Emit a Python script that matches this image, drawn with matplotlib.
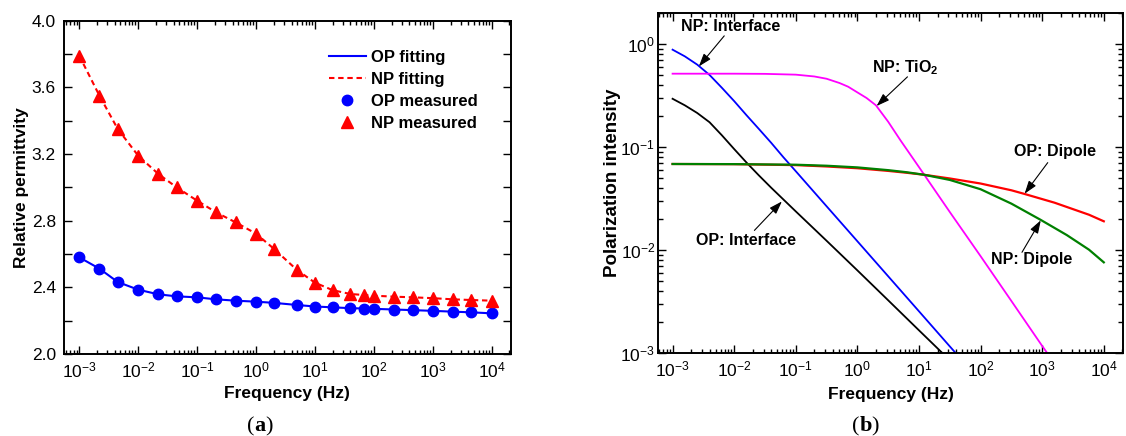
import matplotlib
matplotlib.use('Agg')
import matplotlib.pyplot as plt
from matplotlib.lines import Line2D
from matplotlib.ticker import (LogLocator, MultipleLocator, FixedLocator, LogFormatterMathtext,
                               NullFormatter, FormatStrFormatter)

plt.rcParams['font.family'] = ['Liberation Sans', 'DejaVu Sans']
plt.rcParams['mathtext.fontset'] = 'custom'
plt.rcParams['mathtext.rm'] = 'Liberation Sans'
plt.rcParams['mathtext.it'] = 'Liberation Sans:italic'
plt.rcParams['mathtext.bf'] = 'Liberation Sans:bold'

# ---------------- data: panel (a) ----------------
freq_a = [1e-3, 2.2e-3, 4.5e-3, 1e-2, 2.2e-2, 4.5e-2, 0.1, 0.21, 0.45, 1, 2, 5, 10,
          20, 40, 68, 100, 220, 470, 1000, 2200, 4500, 10000]
op_measured = [2.58, 2.512, 2.432, 2.386, 2.358, 2.346, 2.34, 2.328, 2.32, 2.314, 2.307,
               2.294, 2.285, 2.28, 2.275, 2.273, 2.271, 2.267, 2.263, 2.259, 2.254, 2.25, 2.244]
np_measured = [3.79, 3.55, 3.35, 3.19, 3.08, 3.0, 2.92, 2.85, 2.79, 2.722, 2.632, 2.503,
               2.428, 2.383, 2.36, 2.354, 2.35, 2.344, 2.34, 2.335, 2.328, 2.324, 2.32]
legend_labels = ['OP fitting', 'NP fitting', 'OP measured', 'NP measured']

# ---------------- data: panel (b) ----------------
np_interface_f = [1e-3, 1.58e-3, 2.51e-3, 3.98e-3, 6.31e-3, 1e-2, 1.58e-2, 2.51e-2, 3.98e-2,
                  6.31e-2, 0.1, 0.316, 1, 3.16, 10, 31.6, 50]
np_interface_v = [0.881, 0.759, 0.631, 0.501, 0.376, 0.279, 0.204, 0.150, 0.110, 0.0794,
                  0.0582, 0.0266, 0.01216, 0.00556, 0.00254, 0.00116, 0.000851]

op_interface_f = [1e-3, 1.58e-3, 2.51e-3, 3.98e-3, 6.31e-3, 1e-2, 1.58e-2, 2.51e-2, 3.98e-2,
                  6.31e-2, 0.1, 0.316, 1, 3.16, 10, 31.6]
op_interface_v = [0.294, 0.254, 0.214, 0.174, 0.130, 0.0955, 0.0708, 0.0531, 0.0403, 0.0309,
                  0.0237, 0.0123, 0.00634, 0.00325, 0.00166, 0.000851]

np_tio2_f = [1e-3, 1e-2, 0.0316, 0.1, 0.2, 0.316, 0.513, 0.708, 1.0, 1.41, 2.0, 3.16, 5.01,
             10, 31.6, 100, 316, 1000, 1585]
np_tio2_v = [0.515, 0.515, 0.513, 0.504, 0.484, 0.460, 0.418, 0.385, 0.339, 0.299, 0.254,
             0.176, 0.116, 0.0638, 0.0234, 0.00871, 0.0032, 0.00117, 0.000794]

op_dipole_f = [1e-3, 1e-2, 0.1, 0.316, 1, 3.16, 6.31, 12, 31.6, 100, 316, 501, 1585, 5750, 1e4]
op_dipole_v = [0.0684, 0.0681, 0.0667, 0.0647, 0.0622, 0.0586, 0.0562, 0.0538, 0.0495, 0.0442,
               0.0380, 0.0352, 0.0288, 0.0220, 0.0190]

np_dipole_f = [1e-3, 1e-2, 0.1, 0.316, 1, 3.16, 6.31, 12, 31.6, 100, 316, 933, 2510, 5750, 1e4]
np_dipole_v = [0.0684, 0.0682, 0.0673, 0.0658, 0.0634, 0.0596, 0.0569, 0.0538, 0.0479, 0.0389,
               0.0282, 0.0197, 0.01396, 0.01007, 0.00759]

x_decades = [1e-3, 1e-2, 1e-1, 1e0, 1e1, 1e2, 1e3, 1e4]
y_decades_b = [1e-3, 1e-2, 1e-1, 1e0]

W, H = 1126, 436
fig = plt.figure(figsize=(W / 100, H / 100), dpi=100)

TICK_FS = 12.5
LABEL_FS = 12.5

# ================= panel (a) =================
axa = fig.add_axes([63.5 / W, (H - 354) / H, 447.2 / W, 333.3 / H])
blue = '#0000FF'
red = '#FF0000'
axa.plot(freq_a, op_measured, color=blue, lw=1.5, zorder=2)
axa.plot(freq_a, np_measured, color=red, lw=1.5, ls=(0, (2.6, 1.8)), zorder=2)
axa.plot(freq_a, op_measured, 'o', color=blue, ms=7.5, ls='none', zorder=3)
axa.plot(freq_a, np_measured, '^', color=red, ms=8.5, ls='none', zorder=3)
axa.set_xscale('log')
axa.set_xlim(5.4e-4, 2.1e4)
axa.set_ylim(2.0, 4.0)
axa.yaxis.set_major_locator(MultipleLocator(0.4))
axa.yaxis.set_minor_locator(MultipleLocator(0.2))
axa.yaxis.set_major_formatter(FormatStrFormatter('%.1f'))

handles = [Line2D([], [], color=blue, lw=1.5),
           Line2D([], [], color=red, lw=1.5, ls=(0, (2.6, 1.8))),
           Line2D([], [], color=blue, marker='o', ms=7.5, ls='none'),
           Line2D([], [], color=red, marker='^', ms=8.5, ls='none')]
leg = axa.legend(handles, legend_labels, loc='upper left', bbox_to_anchor=(0.593, 0.913),
                 frameon=False, borderaxespad=0, borderpad=0, handlelength=2.25,
                 handletextpad=0.3, labelspacing=0.42, numpoints=1,
                 prop={'weight': 'bold', 'size': 12})

axa.set_xlabel('Frequency (Hz)', fontsize=LABEL_FS, fontweight='bold')
axa.set_ylabel('Relative permittvity', fontsize=LABEL_FS, fontweight='bold')
axa.xaxis.set_label_coords(0.5, -0.097)
axa.yaxis.set_label_coords(-0.077, 0.5)

# ================= panel (b) =================
axb = fig.add_axes([658 / W, (H - 353) / H, 465 / W, 340 / H])
axb.plot(np_interface_f, np_interface_v, color='#0000FF', lw=1.3)
axb.plot(op_interface_f, op_interface_v, color='black', lw=1.3)
axb.plot(np_tio2_f, np_tio2_v, color='#FF00FF', lw=1.3)
axb.plot(op_dipole_f, op_dipole_v, color='#FF0000', lw=1.6)
axb.plot(np_dipole_f, np_dipole_v, color='#008000', lw=1.6)
axb.set_xscale('log')
axb.set_yscale('log')
axb.set_xlim(5.8e-4, 2.05e4)
axb.set_ylim(1e-3, 2.0)
axb.yaxis.set_major_locator(FixedLocator(y_decades_b))
axb.yaxis.set_minor_locator(LogLocator(base=10, subs=range(2, 10), numticks=20))
axb.yaxis.set_major_formatter(LogFormatterMathtext())
axb.yaxis.set_minor_formatter(NullFormatter())
axb.set_xlabel('Frequency (Hz)', fontsize=LABEL_FS, fontweight='bold')
axb.set_ylabel('Polarization intensity', fontsize=13.5, fontweight='bold')
axb.xaxis.set_label_coords(0.5, -0.1)
axb.yaxis.set_label_coords(-0.0795, 0.5)

arrow_kw = dict(arrowstyle='-|>,head_length=0.65,head_width=0.22', color='black',
                lw=0.8, shrinkA=0, shrinkB=0, mutation_scale=12)
ann_fs = 11.5
# (text, text position, arrow tail, arrow tip)
annots = [
    ('NP: Interface', (8.6e-3, 1.48), (6.9e-3, 1.2), (2.67e-3, 0.606)),
    (r'NP: TiO$_\mathbf{2}$', (6.1, 0.59), (6.5, 0.48), (2.05, 0.25)),
    ('OP: Dipole', (1600, 0.09), (1230, 0.0705), (518, 0.0352)),
    ('NP: Dipole', (676, 0.00805), (470, 0.0095), (948, 0.0194)),
    ('OP: Interface', (0.0154, 0.0124), (0.0213, 0.0155), (0.0595, 0.0296)),
]
for txt, tpos, tail, tip in annots:
    axb.text(tpos[0], tpos[1], txt, ha='center', va='center', fontsize=ann_fs,
             fontweight='bold')
    axb.annotate('', xy=tip, xytext=tail, arrowprops=arrow_kw)

# ================= ticks & spines =================
for ax in (axa, axb):
    ax.xaxis.set_major_locator(FixedLocator(x_decades))
    ax.xaxis.set_minor_locator(LogLocator(base=10, subs=range(2, 10), numticks=20))
    ax.xaxis.set_major_formatter(LogFormatterMathtext())
    ax.xaxis.set_minor_formatter(NullFormatter())
    ax.tick_params(which='both', direction='in', top=True, right=True,
                   labelsize=TICK_FS, width=1.0, color='black')
    ax.tick_params(axis='x', which='major', length=5.5, pad=5)
    ax.tick_params(axis='x', which='minor', length=3)
    for s in ax.spines.values():
        s.set_linewidth(1.4)

axa.tick_params(axis='y', which='both', length=5.5, pad=5.5)
axb.tick_params(axis='y', which='major', length=6, pad=2)
axb.tick_params(axis='y', which='minor', length=3.5)

# ================= captions =================
def caption(letter, cx):
    t1 = fig.text((cx - 13) / W, 5 / H, '(', fontsize=16, family='Liberation Serif',
                  va='baseline', ha='left')
    t2 = fig.add_artist(plt.Annotation(letter, xy=(1, 0), xycoords=t1, va='bottom', ha='left',
                                       fontsize=16, family='Liberation Serif',
                                       fontweight='bold'))
    fig.add_artist(plt.Annotation(')', xy=(1, 0), xycoords=t2, va='bottom', ha='left',
                                  fontsize=16, family='Liberation Serif'))

caption('a', 260)
caption('b', 865)

fig.savefig('out.png', dpi=100)
